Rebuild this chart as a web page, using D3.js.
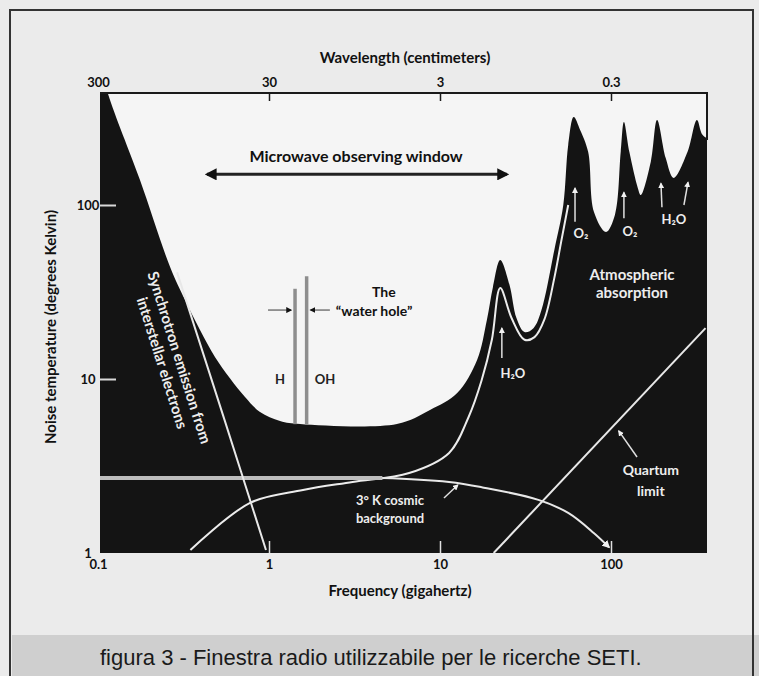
<!DOCTYPE html>
<html>
<head>
<meta charset="utf-8">
<script src="https://cdn.jsdelivr.net/npm/d3@7"></script>
<style>
body { margin: 0; background: #e9e9e9; }
svg { display: block; }
text { font-family: Lato, "Open Sans", sans-serif; font-weight: bold; }
</style>
</head>
<body>
<script>
// noise temperature of the sky vs frequency
var skyFreq = [0.1, 0.114, 0.176, 0.264, 0.323, 0.395, 0.483, 0.591, 0.724, 0.886, 1.16, 1.52, 5.6, 8.74, 12.6, 16.5, 18.8, 20.4, 22.5, 25.5, 28, 31.2, 35.2, 39.2, 46.6, 52.6, 56.2, 60.5, 66, 73.5, 79.6, 93.5, 105.5, 114, 119, 128, 143.6, 149.4, 170.9, 186, 208.9, 232.4, 280.4, 318, 342.7, 380];
var skyTemp = [730, 440, 139, 44, 28.4, 19.1, 13.4, 10.1, 7.88, 6.46, 5.74, 5.51, 5.51, 6.63, 8.3, 12.9, 21.8, 33.8, 48.3, 34.7, 22.4, 18.6, 19.6, 24.9, 55, 100, 221, 320, 270, 202, 91, 70, 88, 202, 300, 202, 125, 114, 177, 308, 186, 143, 202, 308, 253, 236];

var atmFreq = [0.347, 0.775, 1.58, 3.08, 6.6, 11.3, 14.7, 17.5, 20.1, 22.5, 26.2, 31.2, 35.7, 40.8, 46.6, 51.2, 56.2];
var atmTemp = [1.04, 1.94, 2.30, 2.56, 2.88, 3.76, 6.05, 9.8, 16.8, 33.3, 22.4, 16.8, 17.4, 22, 38, 62, 100];

var synchFreq = [0.29, 0.55, 0.96];
var synchTemp = [41, 5.8, 1.04];

var cosmicFreq = [0.1, 1, 4.6, 11.3, 17.5, 37.6, 56.2, 79.6, 97.3];
var cosmicTemp = [2.7, 2.7, 2.7, 2.56, 2.39, 2.02, 1.70, 1.30, 1.08];

var quantumFreq = [20.6, 357];
var quantumTemp = [1, 19.6];

var waterHoleFreq = [1.42, 1.66];     // H, OH lines
var waterHoleTop = [33, 39];
var waterHoleLabels = ["H", "OH"];
var windowFloor = 5.5;

var windowRange = [0.434, 24.6];       // microwave observing window
var windowTemp = 150;

var freqTicks = [0.1, 1, 10, 100];
var tempTicks = [1, 10, 100];
var waveTicks = [300, 30, 3, 0.3];

var width = 759, height = 676;
var plot = {left: 100, right: 707, top: 93, bottom: 553};

var x = d3.scaleLog().domain([0.1, 100]).range([98, 611]);
var y = d3.scaleLog().domain([1, 1000]).range([553, 31]);
var xw = d3.scaleLog().domain([300, 0.3]).range([x(0.1), x(100)]);

var svg = d3.select("body").append("svg")
    .attr("width", width)
    .attr("height", height);

var defs = svg.append("defs");
function marker(id, color) {
  defs.append("marker")
      .attr("id", id)
      .attr("viewBox", "0 0 10 10")
      .attr("refX", 8).attr("refY", 5)
      .attr("markerWidth", 4).attr("markerHeight", 4)
      .attr("orient", "auto-start-reverse")
    .append("path")
      .attr("d", "M0,0L10,5L0,10z")
      .attr("fill", color);
}
marker("headW", "#f2f2f2");
marker("headK", "#111");
defs.append("clipPath").attr("id", "clip")
  .append("rect")
    .attr("x", plot.left).attr("y", plot.top)
    .attr("width", plot.right - plot.left)
    .attr("height", plot.bottom - plot.top);

// page + frame
svg.append("rect").attr("width", width).attr("height", height).attr("fill", "#ebebeb");
svg.append("rect").attr("x", 12).attr("y", 635).attr("width", width - 12).attr("height", 41).attr("fill", "#cfcfcf");
svg.append("path")
    .attr("d", "M10,676V10H753V676")
    .attr("fill", "none").attr("stroke", "#333").attr("stroke-width", 2);

svg.append("text")
    .attr("x", 100).attr("y", 665)
    .style("font-family", "'Liberation Sans', Arial, sans-serif")
    .style("font-weight", "normal")
    .style("font-size", "22px")
    .attr("fill", "#1a1a1a")
    .text("figura 3 - Finestra radio utilizzabile per le ricerche SETI.");

// plot window
svg.append("rect")
    .attr("x", plot.left).attr("y", plot.top)
    .attr("width", plot.right - plot.left).attr("height", plot.bottom - plot.top)
    .attr("fill", "#f5f5f5");

var g = svg.append("g").attr("clip-path", "url(#clip)");

var area = d3.area()
    .x(function(d) { return x(d[0]); })
    .y0(plot.bottom)
    .y1(function(d) { return y(d[1]); })
    .curve(d3.curveCatmullRom.alpha(0.5));
var line = d3.line()
    .x(function(d) { return x(d[0]); })
    .y(function(d) { return y(d[1]); })
    .curve(d3.curveCatmullRom.alpha(0.5));

g.append("path")
    .datum(d3.zip(skyFreq, skyTemp))
    .attr("d", area)
    .attr("fill", "#141414");

// curves inside the dark area
g.append("path")
    .datum(d3.zip(atmFreq, atmTemp))
    .attr("d", line)
    .attr("fill", "none").attr("stroke", "#ececec").attr("stroke-width", 2);

g.append("path")
    .datum(d3.zip(cosmicFreq, cosmicTemp))
    .attr("d", line)
    .attr("fill", "none").attr("stroke", "#e8e8e8").attr("stroke-width", 2)
    .attr("marker-end", "url(#headW)");
g.append("path")
    .datum(d3.zip(cosmicFreq, cosmicTemp).filter(function(d) { return d[0] <= 4.6; }))
    .attr("d", line)
    .attr("fill", "none").attr("stroke", "#bdbdbd").attr("stroke-width", 4);

g.append("path")
    .datum(d3.zip(synchFreq, synchTemp))
    .attr("d", line)
    .attr("fill", "none").attr("stroke", "#e8e8e8").attr("stroke-width", 2);

g.append("path")
    .datum(d3.zip(quantumFreq, quantumTemp))
    .attr("d", d3.line().x(function(d) { return x(d[0]); }).y(function(d) { return y(d[1]); }))
    .attr("fill", "none").attr("stroke", "#e8e8e8").attr("stroke-width", 2);

// water hole lines
g.selectAll(".wh")
    .data(waterHoleFreq)
  .enter().append("line")
    .attr("x1", function(d) { return x(d); })
    .attr("x2", function(d) { return x(d); })
    .attr("y1", function(d, i) { return y(waterHoleTop[i]); })
    .attr("y2", y(windowFloor))
    .attr("stroke", "#8e8e8e").attr("stroke-width", 3.5);

svg.append("text")
    .attr("x", x(waterHoleFreq[0]) - 10).attr("y", y(10) + 5)
    .attr("text-anchor", "end").style("font-size", "13px").attr("fill", "#222")
    .text(waterHoleLabels[0]);
svg.append("text")
    .attr("x", x(waterHoleFreq[1]) + 8).attr("y", y(10) + 5)
    .style("font-size", "13px").attr("fill", "#222")
    .text(waterHoleLabels[1]);

svg.append("line")
    .attr("x1", x(0.987)).attr("x2", x(waterHoleFreq[0]) - 4)
    .attr("y1", y(24.9)).attr("y2", y(24.9))
    .attr("stroke", "#777").attr("stroke-width", 1.5).attr("marker-end", "url(#headK)");
svg.append("line")
    .attr("x1", x(2.27)).attr("x2", x(waterHoleFreq[1]) + 4)
    .attr("y1", y(24.9)).attr("y2", y(24.9))
    .attr("stroke", "#777").attr("stroke-width", 1.5).attr("marker-end", "url(#headK)");
svg.append("text")
    .attr("x", x(4.7)).attr("y", y(30.8) + 3)
    .attr("text-anchor", "middle").style("font-size", "14px").attr("fill", "#111")
    .text("The");
svg.append("text")
    .attr("x", x(2.46)).attr("y", y(24.9) + 6)
    .style("font-size", "14px").attr("fill", "#111")
    .text("\u201cwater hole\u201d");

// microwave window
svg.append("line")
    .attr("x1", x(windowRange[0])).attr("x2", x(windowRange[1]))
    .attr("y1", y(windowTemp)).attr("y2", y(windowTemp))
    .attr("stroke", "#222").attr("stroke-width", 3)
    .attr("marker-start", "url(#headK)").attr("marker-end", "url(#headK)");
svg.append("text")
    .attr("x", x(3.23)).attr("y", y(windowTemp) - 12)
    .attr("text-anchor", "middle").style("font-size", "16px").attr("fill", "#111")
    .text("Microwave observing window");

// border and axes
svg.append("path")
    .attr("d", "M" + plot.left + "," + plot.top + "H" + plot.right + "V" + y(236))
    .attr("fill", "none").attr("stroke", "#1a1a1a").attr("stroke-width", 2);

var waveAxis = svg.append("g")
    .attr("transform", "translate(0," + plot.top + ")")
    .call(d3.axisTop(xw).tickValues(waveTicks).tickFormat(d3.format("")).tickSizeInner(-8).tickSizeOuter(0).tickPadding(6));
waveAxis.select(".domain").remove();
waveAxis.selectAll("line").attr("stroke", "#1a1a1a").attr("stroke-width", 1.5)
    .attr("opacity", function(d) { return d === 300 ? 0 : 1; });
waveAxis.selectAll("text").style("font-size", "13px").style("font-family", "Lato, sans-serif").attr("fill", "#111");

var freqAxis = svg.append("g")
    .attr("transform", "translate(0," + plot.bottom + ")")
    .call(d3.axisBottom(x).tickValues(freqTicks).tickFormat(d3.format("")).tickSizeInner(-12).tickSizeOuter(0).tickPadding(7));
freqAxis.select(".domain").remove();
freqAxis.selectAll("line").attr("stroke", "#e0e0e0").attr("stroke-width", 1.5)
    .attr("opacity", function(d) { return d === 0.1 ? 0 : 1; });
freqAxis.selectAll("text").style("font-size", "13px").style("font-family", "Lato, sans-serif").attr("fill", "#111");

var tempAxis = svg.append("g")
    .attr("transform", "translate(" + plot.left + ",0)")
    .call(d3.axisLeft(y).tickValues(tempTicks).tickFormat(d3.format("")).tickSizeInner(-16).tickSizeOuter(0).tickPadding(12));
tempAxis.select(".domain").remove();
tempAxis.selectAll("line").attr("stroke", "#d8d8d8").attr("stroke-width", 2)
    .attr("opacity", function(d) { return d === 1 ? 0 : 1; });
tempAxis.selectAll("text").attr("text-anchor", "middle")
    .style("font-size", "13px").style("font-family", "Lato, sans-serif").attr("fill", "#111");

svg.append("text")
    .attr("x", 405).attr("y", 63)
    .attr("text-anchor", "middle").style("font-size", "15px").attr("fill", "#111")
    .text("Wavelength (centimeters)");
svg.append("text")
    .attr("x", 400).attr("y", 596)
    .attr("text-anchor", "middle").style("font-size", "15px").attr("fill", "#111")
    .text("Frequency (gigahertz)");
svg.append("text")
    .attr("transform", "translate(56,327) rotate(-90)")
    .attr("text-anchor", "middle").style("font-size", "15px").attr("fill", "#111")
    .text("Noise temperature (degrees Kelvin)");

// labels inside the dark area
function whiteText(f, t, s, size) {
  return svg.append("text")
      .attr("x", x(f)).attr("y", y(t) + 5)
      .attr("text-anchor", "middle").style("font-size", (size || 14) + "px")
      .attr("fill", "#ededed").text(s);
}
function whiteArrow(f1, t1, f2, t2) {
  svg.append("line")
      .attr("x1", x(f1)).attr("y1", y(t1)).attr("x2", x(f2)).attr("y2", y(t2))
      .attr("stroke", "#e0e0e0").attr("stroke-width", 1.5)
      .attr("marker-end", "url(#headW)");
}

whiteText(132.7, 39.6, "Atmospheric", 15);
whiteText(132.7, 31.2, "absorption", 15);
whiteText(66.8, 69, "O\u2082", 13);
whiteText(129, 70.7, "O\u2082", 13);
whiteText(233, 83, "H\u2082O", 13);
whiteArrow(61.6, 80, 61.6, 125);
whiteArrow(119, 84, 119, 118);
whiteArrow(198.6, 97, 196, 133);
whiteArrow(267, 100, 282, 135);

whiteText(26.7, 10.8, "H\u2082O", 13);
whiteArrow(23, 13.2, 23, 19.6);

whiteText(5.1, 2.02, "3\u00b0 K cosmic", 13);
whiteText(5.1, 1.59, "background", 13);
whiteArrow(10.55, 2.07, 12.7, 2.46);

whiteText(171, 3.0, "Quartum", 14);
whiteText(171, 2.27, "limit", 14);
whiteArrow(142, 3.56, 111, 5.03);

var synch = svg.append("text")
    .attr("transform", "translate(" + x(0.265) + "," + y(12.8) + ") rotate(72.5)")
    .attr("text-anchor", "middle").style("font-size", "15px").attr("fill", "#ededed");
synch.append("tspan").attr("x", 0).attr("dy", -4).text("Synchrotron emission from");
synch.append("tspan").attr("x", 0).attr("dy", 18).text("interstellar electrons");
</script>
</body>
</html>
